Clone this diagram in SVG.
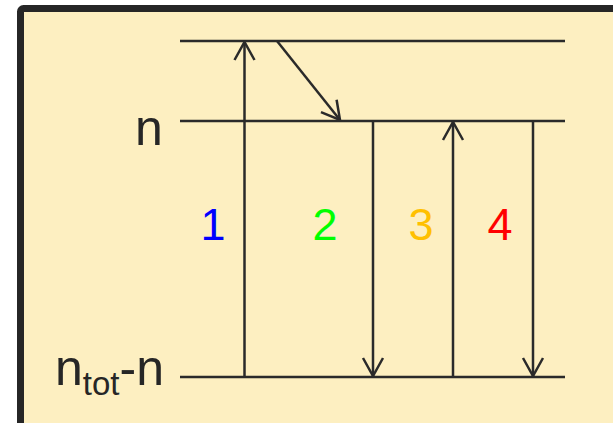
<svg xmlns="http://www.w3.org/2000/svg" width="613" height="423" viewBox="0 0 613 423">
<style>
.lvl{stroke:#2a2a2a;stroke-width:2.5;fill:none}
.arr{stroke:#2a2a2a;stroke-width:2.5;fill:none;marker-end:url(#head)}
.lbl{font-family:"Liberation Sans",Arial,sans-serif;fill:#262626}
.num{font-family:"Liberation Sans",Arial,sans-serif;font-size:45px;text-anchor:middle}
</style>
<defs>
<marker id="head" markerUnits="userSpaceOnUse" viewBox="-20 -12 22 24" refX="0" refY="0" markerWidth="22" markerHeight="24" orient="auto">
<path d="M-18,-10 L0,0 L-18,10" fill="none" stroke="#2a2a2a" stroke-width="2.5"/>
</marker>
</defs>
<rect x="20.5" y="8.5" width="596" height="420" rx="3" fill="#fdefc1" stroke="#262626" stroke-width="7"/>
<g id="levels">
<line id="level-top" class="lvl" x1="180" y1="41" x2="565" y2="41"/>
<line id="level-n" class="lvl" x1="180" y1="121" x2="565" y2="121"/>
<line id="level-ntot" class="lvl" x1="180" y1="377" x2="565" y2="377"/>
</g>
<g id="connectors">
<line class="arr" x1="244.5" y1="377" x2="244.5" y2="42"/>
<line class="arr" x1="277" y1="41" x2="340" y2="120"/>
<line class="arr" x1="373" y1="121" x2="373" y2="376"/>
<line class="arr" x1="453" y1="377" x2="453" y2="122"/>
<line class="arr" x1="533" y1="121" x2="533" y2="376"/>
</g>
<g id="label-n"><text class="lbl" x="135" y="145" font-size="50">n</text></g>
<g id="label-ntot"><text class="lbl" x="55" y="385" font-size="50">n<tspan font-size="33" dy="10">tot</tspan><tspan dy="-10">-n</tspan></text></g>
<g id="label-1"><text class="num" x="213" y="240" fill="#0000ff">1</text></g>
<g id="label-2"><text class="num" x="325" y="240" fill="#00ff00">2</text></g>
<g id="label-3"><text class="num" x="421" y="240" fill="#ffc000">3</text></g>
<g id="label-4"><text class="num" x="500" y="240" fill="#ff0000">4</text></g>
</svg>
